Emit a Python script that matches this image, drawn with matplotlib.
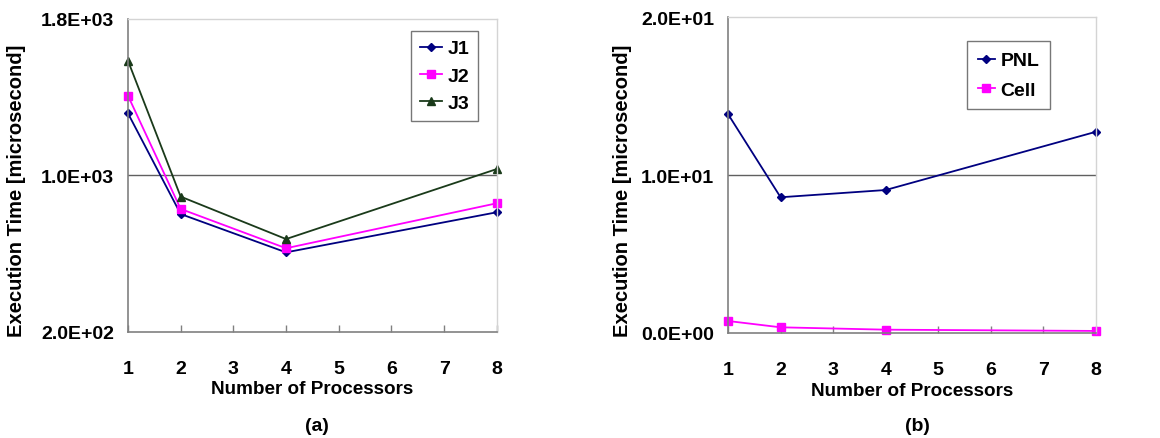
import matplotlib.pyplot as plt
import numpy as np

plt.rcParams['font.family'] = ['Liberation Sans', 'DejaVu Sans']
plt.rcParams['font.weight'] = 'bold'

procs = [1, 2, 4, 8]

# (a) execution times, microsecond
j1 = [1318, 803, 607, 812]
j2 = [1408, 829, 628, 858]
j3 = [1587, 892, 675, 1033]

# (b) execution times, microsecond
pnl = [13.87, 8.6, 9.06, 12.75]
cell = [0.76, 0.36, 0.21, 0.13]

yticks_a = [200, 1000, 1800]
ylabels_a = ['2.0E+02', '1.0E+03', '1.8E+03']
yticks_b = [0, 10, 20]
ylabels_b = ['0.0E+00', '1.0E+01', '2.0E+01']

fig = plt.figure(figsize=(11.6, 4.39), dpi=100)
ax1 = fig.add_axes([0.1103, 0.2415, 0.318, 0.713])
ax2 = fig.add_axes([0.6276, 0.2392, 0.3172, 0.719])


def style(ax, yt, yl):
    ax.set_xlim(1, 8)
    ax.set_ylim(yt[0], yt[-1])
    ax.set_xticks(range(1, 9))
    ax.set_yticks(yt)
    ax.set_yticklabels(yl)
    ax.tick_params(axis='x', direction='in', length=5, width=1, color='#808080',
                   pad=20, labelsize=14)
    ax.tick_params(axis='y', length=0, pad=10, labelsize=14)
    ax.axhline(yt[1], color='#606060', lw=1, zorder=0)
    for s in ['left', 'bottom']:
        ax.spines[s].set_color('#808080')
        ax.spines[s].set_linewidth(1.2)
    for s in ['top', 'right']:
        ax.spines[s].set_color('#d4d4d4')
        ax.spines[s].set_linewidth(1)
    ax.set_xlabel('Number of Processors', fontsize=13.6, fontweight='bold')
    ax.set_ylabel('Execution Time [microsecond]', fontsize=14.5, fontweight='bold')


ax1.plot(procs, j1, color='#000080', marker='D', ms=4, lw=1.3, label='J1', clip_on=False)
ax1.plot(procs, j2, color='#ff00ff', marker='s', ms=6, lw=1.3, label='J2', clip_on=False)
ax1.plot(procs, j3, color='#1a3a1a', marker='^', ms=6, lw=1.3, label='J3', clip_on=False)
style(ax1, yticks_a, ylabels_a)
ax1.xaxis.set_label_coords(0.5, -0.155)
ax1.yaxis.set_label_coords(-0.276, 0.455)
leg1 = ax1.legend(loc='upper right', bbox_to_anchor=(0.9485, 0.9617), borderaxespad=0,
                  fontsize=14, handlelength=1.15, fancybox=False, edgecolor='#555555',
                  borderpad=0.45, labelspacing=0.5, handletextpad=0.25)
leg1.get_frame().set_linewidth(1)

ax2.plot(procs, pnl, color='#000080', marker='D', ms=4, lw=1.3, label='PNL', clip_on=False)
ax2.plot(procs, cell, color='#ff00ff', marker='s', ms=6, lw=1.3, label='Cell', clip_on=False)
style(ax2, yticks_b, ylabels_b)
ax2.xaxis.set_label_coords(0.5, -0.155)
ax2.yaxis.set_label_coords(-0.261, 0.455)
leg2 = ax2.legend(loc='upper right', bbox_to_anchor=(0.875, 0.925), borderaxespad=0,
                  fontsize=14, handlelength=0.85, fancybox=False, edgecolor='#555555',
                  borderpad=0.55, labelspacing=0.6, handletextpad=0.3)
leg2.get_frame().set_linewidth(1)

fig.text(317 / 1160, 1 - 427 / 439, '(a)', ha='center', va='center', fontsize=14, fontweight='bold')
fig.text(917 / 1160, 1 - 427 / 439, '(b)', ha='center', va='center', fontsize=14, fontweight='bold')

fig.savefig('out.png', dpi=100)
